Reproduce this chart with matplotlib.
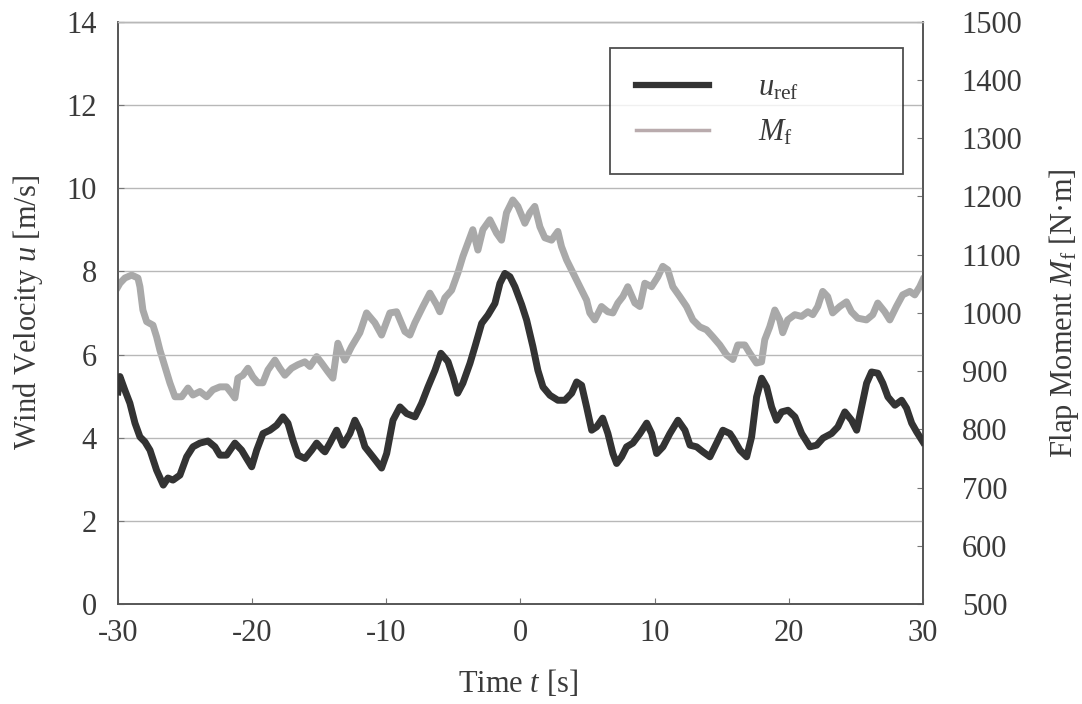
import matplotlib
matplotlib.use("Agg")
import matplotlib.pyplot as plt

plt.rcParams["font.family"] = ["Liberation Serif", "DejaVu Serif"]
plt.rcParams["mathtext.fontset"] = "custom"
plt.rcParams["mathtext.rm"] = "Liberation Serif"
plt.rcParams["mathtext.it"] = "Liberation Serif:italic"
plt.rcParams["axes.unicode_minus"] = False

# Reference wind velocity u_ref [m/s]
u_time = [-30.0, -29.85, -29.48, -29.11, -28.73, -28.36, -27.99, -27.61, -27.12, -26.62,
          -26.27, -25.90, -25.38, -24.88, -24.41, -23.89, -23.29, -22.77, -22.40, -21.90,
          -21.28, -20.78, -20.41, -20.03, -19.66, -19.19, -18.67, -18.17, -17.70, -17.33,
          -16.96, -16.58, -16.06, -15.56, -15.19, -14.72, -14.57, -14.20, -13.70, -13.23,
          -12.71, -12.34, -11.97, -11.59, -11.00, -10.35, -9.97, -9.50, -8.98, -8.48,
          -7.86, -7.36, -6.89, -6.37, -5.93, -5.40, -5.03, -4.68, -4.29, -3.76,
          -3.39, -2.89, -2.42, -1.90, -1.53, -1.16, -0.78, -0.41, 0.09, 0.46,
          0.93, 1.30, 1.68, 2.20, 2.79, 3.31, 3.82, 4.19, 4.56, 4.93,
          5.31, 5.68, 6.13, 6.52, 6.89, 7.17, 7.54, 7.91, 8.38, 8.91,
          9.41, 9.78, 10.15, 10.62, 11.14, 11.74, 12.26, 12.64, 13.13, 13.60,
          14.12, 14.62, 15.09, 15.61, 15.84, 16.36, 16.86, 17.23, 17.60, 17.98,
          18.35, 18.72, 19.09, 19.47, 19.94, 20.46, 20.96, 21.58, 22.08, 22.55,
          23.19, 23.66, 24.18, 24.68, 25.06, 25.43, 25.80, 26.17, 26.64, 27.01,
          27.39, 27.91, 28.41, 28.78, 29.16, 29.53, 30.0]
u_ref = [5.1, 5.47, 5.14, 4.83, 4.35, 4.02, 3.9, 3.7, 3.22, 2.86,
         3.03, 2.98, 3.1, 3.54, 3.78, 3.87, 3.92, 3.78, 3.58, 3.58,
         3.87, 3.7, 3.5, 3.3, 3.7, 4.1, 4.18, 4.3, 4.5, 4.35,
         3.94, 3.58, 3.5, 3.7, 3.87, 3.7, 3.66, 3.87, 4.18, 3.82,
         4.1, 4.42, 4.18, 3.78, 3.54, 3.27, 3.62, 4.42, 4.74, 4.58,
         4.5, 4.83, 5.22, 5.62, 6.03, 5.83, 5.47, 5.07, 5.31, 5.79,
         6.19, 6.75, 6.95, 7.23, 7.71, 7.95, 7.87, 7.63, 7.2, 6.83,
         6.19, 5.62, 5.22, 5.02, 4.9, 4.9, 5.07, 5.34, 5.26, 4.74,
         4.18, 4.26, 4.47, 4.1, 3.62, 3.38, 3.54, 3.78, 3.87, 4.1,
         4.35, 4.1, 3.62, 3.78, 4.1, 4.42, 4.18, 3.82, 3.78, 3.66,
         3.54, 3.87, 4.18, 4.1, 3.99, 3.7, 3.54, 4.02, 4.98, 5.43,
         5.22, 4.74, 4.42, 4.62, 4.66, 4.5, 4.1, 3.78, 3.82, 3.99,
         4.1, 4.26, 4.62, 4.42, 4.18, 4.74, 5.31, 5.58, 5.55, 5.31,
         4.98, 4.78, 4.9, 4.71, 4.35, 4.14, 3.9]

# Flap moment M_f [N·m]
m_time = [-30.0, -29.85, -29.48, -28.98, -28.51, -28.36, -28.14, -27.86, -27.39, -27.12,
          -26.87, -26.50, -26.13, -25.75, -25.25, -24.78, -24.41, -23.89, -23.39, -22.92,
          -22.40, -21.90, -21.53, -21.28, -21.06, -20.69, -20.31, -19.94, -19.57, -19.20,
          -18.82, -18.30, -17.93, -17.56, -17.06, -16.59, -16.07, -15.69, -15.19, -14.82,
          -14.35, -13.98, -13.61, -13.09, -12.59, -11.97, -11.47, -10.85, -10.35, -9.73,
          -9.23, -8.61, -8.24, -7.87, -7.27, -6.75, -6.25, -6.01, -5.63, -5.13,
          -4.66, -4.29, -3.92, -3.55, -3.17, -2.80, -2.28, -1.78, -1.41, -1.04,
          -0.57, -0.19, 0.33, 0.70, 1.07, 1.45, 1.82, 2.32, 2.79, 3.06,
          3.44, 3.91, 4.43, 4.93, 5.17, 5.54, 6.04, 6.51, 6.89, 7.26,
          7.63, 8.00, 8.53, 8.90, 9.27, 9.77, 10.24, 10.61, 10.98, 11.36,
          11.88, 12.38, 12.85, 13.37, 13.87, 14.34, 14.86, 15.36, 15.83, 16.20,
          16.72, 17.09, 17.59, 17.97, 18.21, 18.58, 18.96, 19.33, 19.55, 19.92,
          20.45, 20.95, 21.42, 21.79, 22.16, 22.53, 22.90, 23.27, 23.80, 24.30,
          24.67, 25.14, 25.79, 26.26, 26.63, 27.15, 27.53, 28.02, 28.49, 29.02,
          29.39, 29.76, 30.0]
m_f = [1045, 1051, 1060, 1065, 1060, 1045, 1005, 985, 979, 959,
       936, 908, 880, 856, 856, 871, 859, 865, 856, 868,
       873, 873, 862, 854, 888, 893, 905, 890, 880, 880,
       902, 919, 905, 893, 905, 911, 916, 908, 925, 914,
       899, 888, 948, 919, 942, 966, 1000, 983, 962, 1000,
       1002, 968, 962, 983, 1011, 1034, 1014, 1002, 1026, 1039,
       1069, 1097, 1120, 1143, 1108, 1143, 1160, 1137, 1125, 1172,
       1194, 1183, 1154, 1172, 1183, 1148, 1129, 1125, 1140, 1114,
       1091, 1069, 1045, 1022, 1000, 988, 1011, 1002, 1000, 1017,
       1028, 1045, 1017, 1011, 1051, 1045, 1062, 1080, 1074, 1045,
       1028, 1011, 988, 976, 971, 959, 945, 928, 920, 945,
       945, 931, 914, 916, 954, 976, 1005, 988, 966, 988,
       997, 994, 1002, 997, 1011, 1037, 1028, 1000, 1011, 1019,
       1002, 991, 988, 997, 1017, 1002, 988, 1011, 1031, 1037,
       1031, 1045, 1057]

u_ticks = [0, 2, 4, 6, 8, 10, 12, 14]
m_ticks = list(range(500, 1501, 100))
t_ticks = [-30, -20, -10, 0, 10, 20, 30]

text_color = "#3a3a3a"
fs = 22

fig = plt.figure(figsize=(10.82, 7.04), dpi=100)
ax = fig.add_axes([0.109, 0.142, 0.744, 0.827])
ax2 = ax.twinx()

ax.set_xlim(-30, 30)
ax.set_ylim(0, 14)
ax2.set_ylim(500, 1500)
ax.set_xticks(t_ticks)
ax.set_yticks(u_ticks)
ax2.set_yticks(m_ticks)

ax.grid(axis="y", color="#b8b8b8", linewidth=1.0)
ax.set_axisbelow(True)

for a in (ax, ax2):
    for side in ("left", "right", "bottom"):
        a.spines[side].set_color("#555555")
        a.spines[side].set_linewidth(1.2)
    a.spines["top"].set_color("#b8b8b8")
    a.spines["top"].set_linewidth(1.0)

ax.tick_params(axis="both", direction="in", length=4, width=0.8, color="#777777",
               labelsize=fs, labelcolor=text_color)
ax.tick_params(axis="y", pad=15)
ax.tick_params(axis="x", pad=11)
ax2.tick_params(axis="y", direction="in", length=4, width=0.8, color="#777777",
                labelsize=fs, labelcolor=text_color, pad=28)

l_m, = ax2.plot(m_time, m_f, color="#a9a9a9", linewidth=5.0,
                solid_joinstyle="round", zorder=2)
l_u, = ax.plot(u_time, u_ref, color="#333333", linewidth=5.0,
               solid_joinstyle="round", zorder=3)
ax.set_zorder(ax2.get_zorder() + 1)
ax.patch.set_visible(False)

ax.set_xlabel(r"Time $t$ [s]", fontsize=fs, color=text_color, va="center")
ax.xaxis.set_label_coords(0.497, -0.136)
ax.set_ylabel(r"Wind Velocity $u$ [m/s]", fontsize=fs, color=text_color, va="center")
ax.yaxis.set_label_coords(-0.112, 0.5)
ax2.set_ylabel(r"Flap Moment $M_{\mathrm{f}}$ [N·m]", fontsize=fs, color=text_color, va="center")
ax2.yaxis.set_label_coords(1.175, 0.5)

leg = ax.legend([l_u, l_m], [r"$u_{\mathrm{ref}}$", r"$M_{\mathrm{f}}$"],
                loc="upper left", bbox_to_anchor=(0.611, 0.749, 0.364, 0.206),
                mode="expand", fontsize=fs, frameon=True, fancybox=False,
                edgecolor="#222222", handlelength=2.4, handletextpad=1.6,
                borderpad=0.85, labelspacing=0.5, borderaxespad=0.0)
leg.get_frame().set_linewidth(1.3)
for txt in leg.get_texts():
    txt.set_color(text_color)
leg.legend_handles[0].set_linewidth(4.5)
leg.legend_handles[1].set_linewidth(2.5)
leg.legend_handles[1].set_color("#b9abad")

fig.savefig("out.png", dpi=100, facecolor="white")
